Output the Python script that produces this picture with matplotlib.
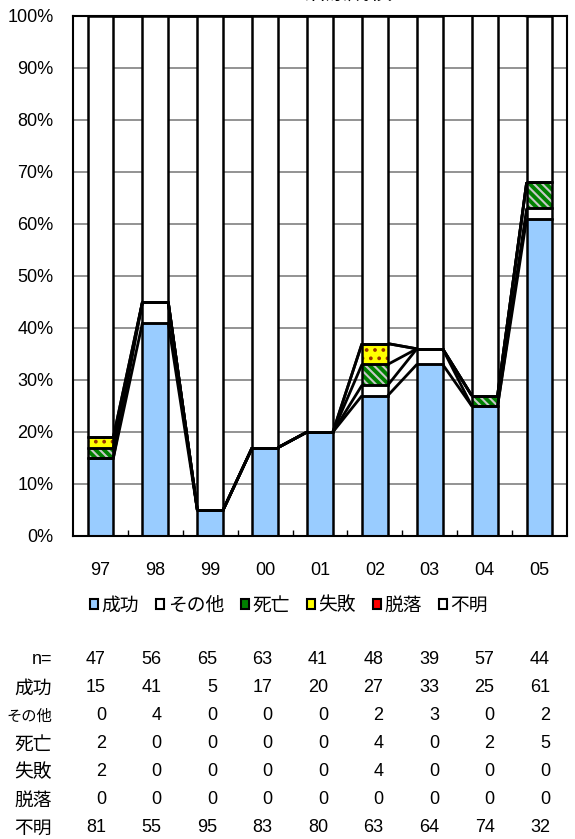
import matplotlib
matplotlib.use("Agg")
import matplotlib.pyplot as plt
from matplotlib.patches import Patch
import numpy as np

# ---- data ----
years = ['97', '98', '99', '00', '01', '02', '03', '04', '05']
n_vals = [47, 56, 65, 63, 41, 48, 39, 57, 44]
success = [15, 41, 5, 17, 20, 27, 33, 25, 61]
other = [0, 4, 0, 0, 0, 2, 3, 0, 2]
death = [2, 0, 0, 0, 0, 4, 0, 2, 5]
fail = [2, 0, 0, 0, 0, 4, 0, 0, 0]
dropout = [0, 0, 0, 0, 0, 0, 0, 0, 0]
unknown = [81, 55, 95, 83, 80, 63, 64, 74, 32]
series_names = ['成功', 'その他', '死亡', '失敗', '脱落', '不明']
title_text = '治療成績'

series = [success, other, death, fail, dropout, unknown]
face = ['#99CCFF', '#FFFFFF', '#008000', '#FFFF00', '#FF0000', '#FFFFFF']
hatches = [None, None, '\\\\\\\\', '..', None, None]
hatch_cols = [None, None, '#C8C8C8', '#993300', None, None]

CJK = ['Noto Sans CJK JP', 'DejaVu Sans']
NUM = ['Liberation Sans Narrow', 'Liberation Sans', 'DejaVu Sans']
plt.rcParams['hatch.linewidth'] = 1.5

W, H = 575, 839
fig = plt.figure(figsize=(W / 100, H / 100), dpi=100)
ax = fig.add_axes([73 / W, 1 - 536 / H, (567 - 73) / W, (536 - 16) / H])

x = np.arange(len(years))
bw = 0.47
bottom = np.zeros(len(years))
tops = []
for k, vals in enumerate(series):
    v = np.array(vals, dtype=float)
    ax.bar(x, v, bw, bottom=bottom, color=face[k], edgecolor='none', linewidth=0, zorder=2)
    if hatches[k]:
        ax.bar(x, v, bw, bottom=bottom, color='none', edgecolor=hatch_cols[k],
               hatch=hatches[k], linewidth=0, zorder=3)
    ax.bar(x, v, bw, bottom=bottom, color='none', edgecolor='black', linewidth=1.8, zorder=4)
    bottom = bottom + v
    tops.append(bottom.copy())

# series lines
for t in tops:
    for i in range(len(years) - 1):
        ax.plot([x[i] + bw / 2, x[i + 1] - bw / 2], [t[i], t[i + 1]],
                color='black', lw=2, zorder=5, solid_capstyle='butt')

ax.set_xlim(-0.5, len(years) - 0.5)
ax.set_ylim(0, 100)
ax.set_yticks(np.arange(0, 101, 10))
ax.set_yticklabels([f'{v}%' for v in range(0, 101, 10)], family=NUM, fontsize=13)
ax.yaxis.grid(True, color='#808080', lw=1.2, zorder=0)
ax.set_axisbelow(True)
ax.set_xticks(x)
ax.set_xticklabels(years, family=NUM, fontsize=13)
ax.set_xticks(np.arange(0.5, len(years) - 0.5, 1), minor=True)
ax.tick_params(axis='x', which='major', length=0, pad=19)
ax.tick_params(axis='x', which='minor', length=4, direction='in', width=1)
ax.tick_params(axis='y', length=0, pad=14)
for s in ax.spines.values():
    s.set_linewidth(1.5)
    s.set_color('black')
    s.set_zorder(6)

# title (clipped at the top in the original)
fig.text(348 / W, 1 - 5 / H, title_text, family=CJK, fontsize=16, ha='center', va='bottom')

# legend
handles = []
for k in range(len(series)):
    handles.append(Patch(facecolor=face[k], edgecolor='black', linewidth=1.5))
leg = fig.legend(handles, series_names, loc='center', ncol=6,
                 bbox_to_anchor=(289 / W, 1 - 605 / H), frameon=False,
                 prop={'family': CJK, 'size': 13.5},
                 handlelength=0.42, handleheight=0.42, handletextpad=0.2,
                 columnspacing=0.9, borderpad=0)

# data table
rows = [('n=', n_vals, 13)] + [(series_names[k], series[k], 11 if series_names[k] == 'その他' else 13.5)
                               for k in range(len(series))]
row_y = [660, 688, 716, 744, 772, 800, 828]
for (lab, vals, fs), yy in zip(rows, row_y):
    fam = NUM if lab == 'n=' else CJK
    fig.text(52 / W, 1 - yy / H, lab, family=fam, fontsize=fs, ha='right', va='center')
    for i, v in enumerate(vals):
        fig.text((106 + 55.5 * i) / W, 1 - yy / H, str(v), family=NUM, fontsize=13,
                 ha='right', va='center')

fig.savefig('out.png', dpi=100)
